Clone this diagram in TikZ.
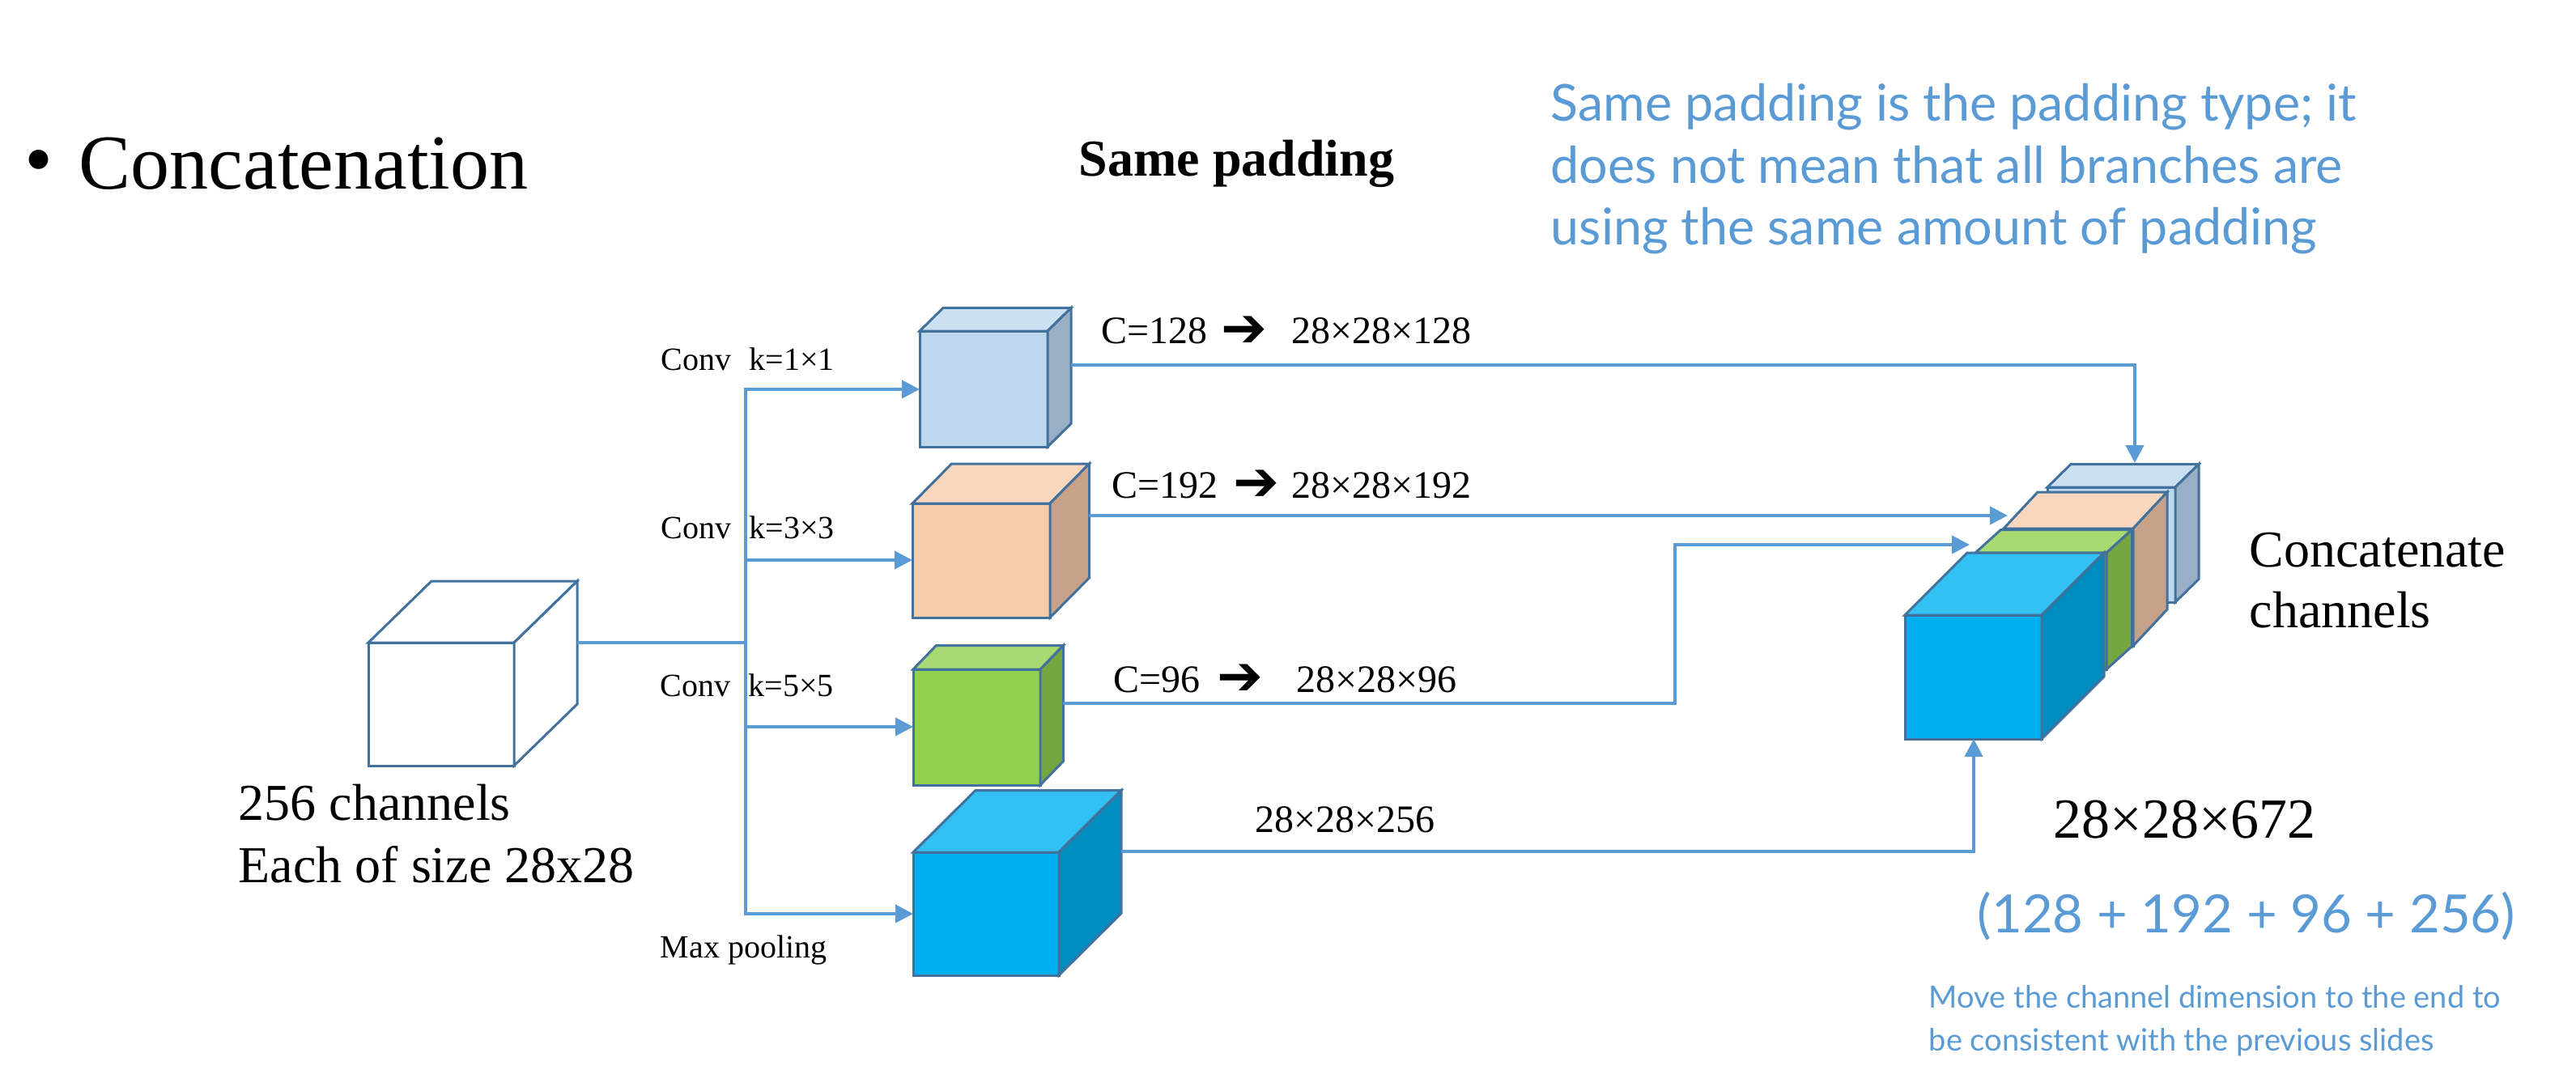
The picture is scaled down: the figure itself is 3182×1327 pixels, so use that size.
\documentclass[tikz,border=0pt]{standalone}
\usepackage{fontspec}
\setmainfont{Liberation Serif}
\newfontfamily\handfont{Lato}
\newfontfamily\arrowfont{DejaVu Sans}
\usetikzlibrary{arrows.meta}

\definecolor{connc}{HTML}{5B9BD5}
\definecolor{edgec}{HTML}{41719C}
\definecolor{handc}{HTML}{5B9BD5}
\definecolor{wF}{HTML}{FFFFFF}\definecolor{wT}{HTML}{FFFFFF}\definecolor{wS}{HTML}{FFFFFF}
\definecolor{lbF}{HTML}{BDD7EE}\definecolor{lbT}{HTML}{CCE0F3}\definecolor{lbS}{HTML}{99AFC5}
\definecolor{peF}{HTML}{F8CBAD}\definecolor{peT}{HTML}{F9D6BE}\definecolor{peS}{HTML}{C6A28A}
\definecolor{grF}{HTML}{92D050}\definecolor{grT}{HTML}{A8D973}\definecolor{grS}{HTML}{75A640}
\definecolor{poF}{HTML}{00B0F0}\definecolor{poT}{HTML}{33C0F3}\definecolor{poS}{HTML}{008DC0}

% x1 y1 x2 y2 dx dy colourprefix
\newcommand{\drawcube}[7]{%
  \filldraw[cubeedge, fill=#7F] (#1,#2) rectangle (#3,#4);
  \filldraw[cubeedge, fill=#7T] (#1,#2) -- ({#1+(#5)},{#2+(#6)}) -- ({#3+(#5)},{#2+(#6)}) -- (#3,#2) -- cycle;
  \filldraw[cubeedge, fill=#7S] (#3,#2) -- ({#3+(#5)},{#2+(#6)}) -- ({#3+(#5)},{#4+(#6)}) -- (#3,#4) -- cycle;
}

\begin{document}
\begin{tikzpicture}[x=0.25pt,y=-0.25pt,
  conn/.style={draw=connc, line width=1pt},
  arr/.style={conn, -{Triangle[length=5.5pt,width=5.5pt]}},
  cubeedge/.style={draw=edgec, line width=0.75pt, line join=miter},
  txt/.style={inner sep=0pt, anchor=base west},
  lbl/.style={txt, font=\fontsize{10}{12}\selectfont},
  dim/.style={txt, font=\fontsize{12}{14}\selectfont},
  arrowsym/.style={txt, font=\arrowfont\fontsize{17}{19}\selectfont},
  big/.style={txt, font=\fontsize{16}{19}\selectfont},
  hand/.style={txt, text=handc, font=\handfont\fontsize{15.7}{19}\selectfont},
  handsmall/.style={txt, text=handc, font=\handfont\fontsize{9.5}{12}\selectfont},
]
\useasboundingbox (0,0) rectangle (3182,1327);

% ---- cubes ----
\drawcube{455}{794}{635}{946}{78}{-76}{w}
\drawcube{1136}{409}{1294}{552}{29}{-28.5}{lb}
\drawcube{1127}{622}{1297}{763}{48.5}{-49}{pe}
\drawcube{1128}{827}{1285}{970}{28.5}{-29.5}{gr}
\drawcube{1128}{1053}{1308}{1205}{77}{-76.5}{po}
% concatenated stack (back to front)
\drawcube{2529}{602}{2687}{744}{29}{-28.5}{lb}
\drawcube{2475}{653}{2635}{798}{42}{-45}{pe}
\drawcube{2440}{683}{2602}{827}{31.5}{-28.5}{gr}
\drawcube{2353}{760}{2522}{913}{77}{-77}{po}

% ---- connection points ----
\coordinate (inR) at (713,794);
\coordinate (tj) at (921,794);
\coordinate (t2) at (921,692);
\coordinate (t3) at (921,898);
\coordinate (c1in) at (1136,481);
\coordinate (c2in) at (1127,692);
\coordinate (c3in) at (1128,898);
\coordinate (c4in) at (1128,1129);
\coordinate (c1out) at (1323,451);
\coordinate (c2out) at (1345,637);
\coordinate (c3out) at (1313,869);
\coordinate (c4out) at (1385,1052);
\coordinate (gbend) at (2069,869);
\coordinate (s1top) at (2637,572);
\coordinate (s2in) at (2480,637);
\coordinate (s3in) at (2433,673);
\coordinate (s4bot) at (2438,913);

% ---- connectors ----
\draw[conn] (inR) -- (tj);
\draw[arr] (tj) |- (c1in);
\draw[arr] (tj) |- (c4in);
\draw[arr] (t2) -- (c2in);
\draw[arr] (t3) -- (c3in);
\draw[arr] (c1out) -| (s1top);
\draw[arr] (c2out) -- (s2in);
\draw[arr] (c3out) -- (gbend) |- (s3in);
\draw[arr] (c4out) -| (s4bot);

% ---- texts ----
\node[txt, font=\fontsize{25}{28}\selectfont] (bul) at (30,231) {•};
\node[txt, font=\fontsize{24}{28}\selectfont] (title) at (97,234) {Concatenation};
\node[txt, font=\bfseries\fontsize{16}{19}\selectfont] (same) at (1332,218) {Same padding};

\node[lbl] (l1) at (816,457) {Conv\hspace{5.5pt}k=1×1};
\node[lbl] (l2) at (816,665) {Conv\hspace{5.5pt}k=3×3};
\node[lbl] (l3) at (815,860) {Conv\hspace{5.5pt}k=5×5};
\node[lbl] (l4) at (815,1183) {Max pooling};

\node[big] (in1) at (294,1013) {256 channels};
\node[big] (in2) at (294,1090) {Each of size 28x28};

\node[dim] (d1a) at (1360,425) {C=128};
\node[arrowsym] (d1b) at (1508,428) {➔};
\node[dim] (d1c) at (1595,425) {28×28×128};
\node[dim] (d2a) at (1373,615) {C=192};
\node[arrowsym] (d2b) at (1523,618) {➔};
\node[dim] (d2c) at (1595,615) {28×28×192};
\node[dim] (d3a) at (1375,855) {C=96};
\node[arrowsym] (d3b) at (1503,858) {➔};
\node[dim] (d3c) at (1601,855) {28×28×96};
\node[dim] (d4) at (1550,1028) {28×28×256};

\node[big] (cc1) at (2778,700) {Concatenate};
\node[big] (cc2) at (2778,775) {channels};
\node[txt, font=\fontsize{17.5}{20}\selectfont] (tot) at (2536,1035) {28×28×672};

\node[hand] (h1) at (1915,150) {Same padding is the padding type; it};
\node[hand] (h2) at (1915,227) {does not mean that all branches are};
\node[hand] (h3) at (1915,303) {using the same amount of padding};
\node[hand, font=\handfont\fontsize{16.3}{19}\selectfont] (sum) at (2442,1152) {(128 + 192 + 96 + 256)};
\node[handsmall] (m1) at (2382,1245) {Move the channel dimension to the end to};
\node[handsmall] (m2) at (2382,1298) {be consistent with the previous slides};
\end{tikzpicture}
\end{document}
